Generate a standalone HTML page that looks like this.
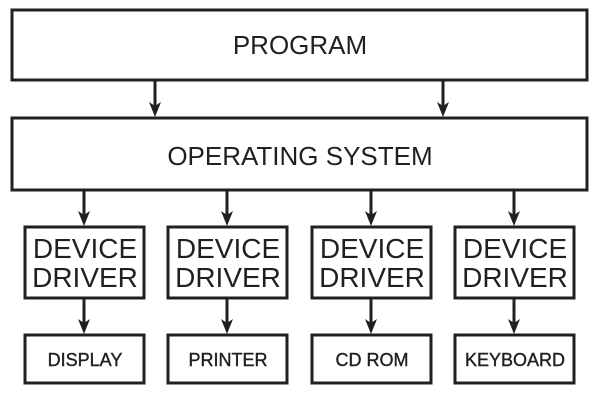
<!DOCTYPE html>
<html><head><style>
body{margin:0;background:#fff;}
</style></head><body>
<svg width="600" height="400" xmlns="http://www.w3.org/2000/svg" font-family="Liberation Sans, Arial, sans-serif" fill="#231f20">
<g fill="none" stroke="#231f20" stroke-width="3">
<rect x="12" y="10" width="575" height="70"/>
<rect x="12" y="118" width="575" height="72"/>
<rect x="25" y="227" width="119" height="71"/>
<rect x="168" y="227" width="119" height="71"/>
<rect x="312" y="227" width="119" height="71"/>
<rect x="455" y="227" width="119" height="71"/>
<rect x="25" y="335" width="119" height="48"/>
<rect x="168" y="335" width="119" height="48"/>
<rect x="312" y="335" width="119" height="48"/>
<rect x="455" y="335" width="119" height="48"/>
<line x1="155" y1="80" x2="155" y2="108"/>
<line x1="443" y1="80" x2="443" y2="108"/>
<line x1="84" y1="190" x2="84" y2="217"/>
<line x1="227" y1="190" x2="227" y2="217"/>
<line x1="371" y1="190" x2="371" y2="217"/>
<line x1="514" y1="190" x2="514" y2="217"/>
<line x1="84" y1="298" x2="84" y2="325"/>
<line x1="227" y1="298" x2="227" y2="325"/>
<line x1="371" y1="298" x2="371" y2="325"/>
<line x1="514" y1="298" x2="514" y2="325"/>
</g>
<g>
<path d="M149,102 L155,106 L161,102 L155,117 Z"/>
<path d="M437,102 L443,106 L449,102 L443,117 Z"/>
<path d="M78,211 L84,215 L90,211 L84,226 Z"/>
<path d="M221,211 L227,215 L233,211 L227,226 Z"/>
<path d="M365,211 L371,215 L377,211 L371,226 Z"/>
<path d="M508,211 L514,215 L520,211 L514,226 Z"/>
<path d="M78,319 L84,323 L90,319 L84,334 Z"/>
<path d="M221,319 L227,323 L233,319 L227,334 Z"/>
<path d="M365,319 L371,323 L377,319 L371,334 Z"/>
<path d="M508,319 L514,323 L520,319 L514,334 Z"/>
</g>
<g text-anchor="middle">
<text x="300" y="54" font-size="26">PROGRAM</text>
<text x="300" y="165" font-size="26">OPERATING SYSTEM</text>
<g font-size="28">
<text x="85" y="258">DEVICE</text><text x="85" y="287">DRIVER</text>
<text x="228" y="258">DEVICE</text><text x="228" y="287">DRIVER</text>
<text x="372" y="258">DEVICE</text><text x="372" y="287">DRIVER</text>
<text x="515" y="258">DEVICE</text><text x="515" y="287">DRIVER</text>
</g>
<g font-size="18" stroke="#231f20" stroke-width="0.4">
<text x="85" y="366">DISPLAY</text>
<text x="228" y="366">PRINTER</text>
<text x="372" y="366">CD ROM</text>
<text x="515" y="366">KEYBOARD</text>
</g>
</g>
</svg>
</body></html>
